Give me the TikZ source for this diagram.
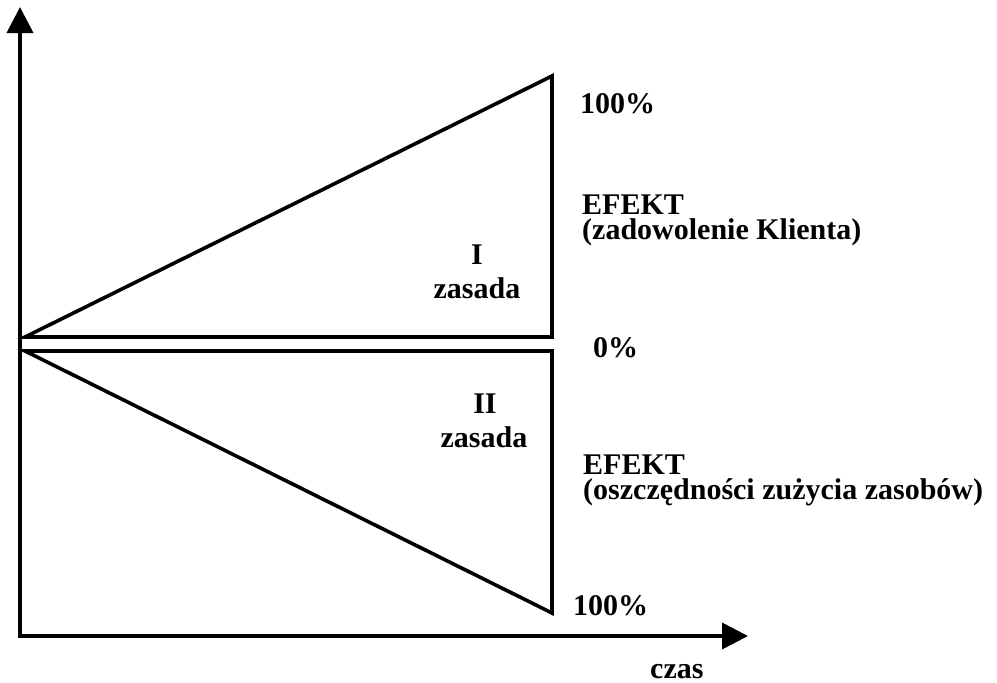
\documentclass[tikz,border=0pt]{standalone}
\usepackage{fontspec}
\setmainfont{Liberation Serif}
\usetikzlibrary{arrows.meta}
\begin{document}
\begin{tikzpicture}[x=1pt,y=-1pt,
  line/.style={line width=3.6pt,line join=miter},
  axis/.style={line width=3.8pt,-{Triangle[length=26pt,width=26pt]}},
  lbl/.style={inner sep=0pt,font=\fontsize{30}{24}\selectfont\bfseries},
  lblw/.style={lbl,anchor=base west},
  lblc/.style={lbl,anchor=base,align=center}]
\useasboundingbox (0,0) rectangle (997,683);
% axes
\coordinate (O) at (20,636);
\coordinate (ytip) at (20,7);
\coordinate (xtip) at (748,636);
\draw[axis] ([yshift=-1.9pt]O) -- (ytip);
\draw[axis] ([xshift=-1.9pt]O) -- (xtip);
% upper triangle (customer satisfaction)
\coordinate (A1) at (25,337);
\coordinate (B1) at (552,337);
\coordinate (C1) at (552,76);
\draw[line] (A1) -- (B1) -- (C1) -- cycle;
% lower triangle (resource savings)
\coordinate (A2) at (25,351);
\coordinate (B2) at (552,351);
\coordinate (C2) at (552,613);
\draw[line] (A2) -- (B2) -- (C2) -- cycle;
% scale labels
\node[lblw] (p100a) at (580,113) {100\%};
\node[lblw] (p0) at (593,357) {0\%};
\node[lblw] (p100b) at (573,615) {100\%};
% effect labels
\node[lblw] (ef1) at (582,214) {EFEKT};
\node[lblw] (ef1b) at (582,239) {(zadowolenie Klienta)};
\node[lblw] (ef2) at (583,474) {EFEKT};
\node[lblw] (ef2b) at (583,499) {(oszczędności zużycia zasobów)};
% principle labels
\node[lblc] (z1a) at (477,264) {I};
\node[lblc] (z1b) at (477,298) {zasada};
\node[lblc] (z2a) at (485,413) {II};
\node[lblc] (z2b) at (484,447) {zasada};
% time axis label
\node[lblw] (czas) at (650,678) {czas};
\end{tikzpicture}
\end{document}
